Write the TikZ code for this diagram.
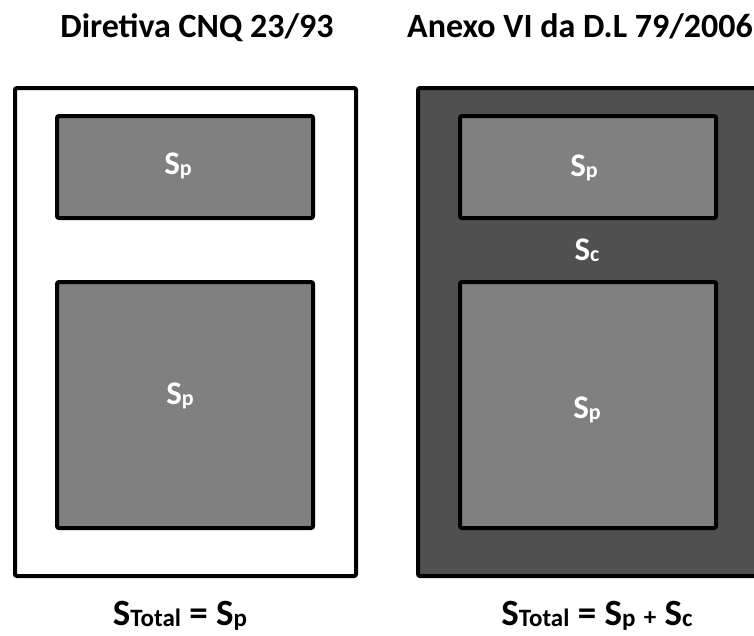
\documentclass[tikz,border=0pt]{standalone}
\usepackage{fontspec}
\setmainfont{Carlito}
\definecolor{darkfill}{HTML}{505050}
\definecolor{midfill}{HTML}{808080}
\newcommand{\labS}[1]{S{\fontsize{22}{22}\selectfont\raisebox{-1pt}{#1}}}
\newcommand{\eqS}[1]{S{\fontsize{25}{25}\selectfont\raisebox{-1pt}{#1}}}
\begin{document}
\begin{tikzpicture}[x=1pt,y=-1pt,
  framebox/.style={draw=black, line width=4pt, rounded corners=2pt, inner sep=0pt, outer sep=0pt, anchor=north west},
  innerbox/.style={framebox, fill=midfill},
  title/.style={font=\fontsize{34}{34}\selectfont\bfseries, text=black, inner sep=0pt, anchor=base},
  lab/.style={font=\fontsize{33}{33}\selectfont\bfseries, text=white, inner sep=0pt, anchor=base},
  eqn/.style={font=\fontsize{37}{37}\selectfont\bfseries, text=black, inner sep=0pt, anchor=base}]
\useasboundingbox (0,0) rectangle (754,635);
% left
\node[framebox, fill=white, minimum width=341pt, minimum height=488pt] (lout) at (15,88) {};
\node[innerbox, minimum width=256pt, minimum height=102pt] (ltop) at (57,116) {};
\node[innerbox, minimum width=256pt, minimum height=246pt] (lbot) at (57,282) {};
% right
\node[framebox, fill=darkfill, minimum width=380pt, minimum height=488pt] (rout) at (418,88) {};
\node[innerbox, minimum width=256pt, minimum height=102pt] (rtop) at (460,116) {};
\node[innerbox, minimum width=256pt, minimum height=246pt] (rbot) at (460,282) {};
% titles
\node[title] (t1) at (197,37) {Diretiva CNQ 23/93};
\node[title, anchor=base west] (t2) at (407,37) {Anexo VI da D.L 79/2006};
% labels
\node[lab] (l1) at (178,174) {\labS{p}};
\node[lab] (l2) at (180,404) {\labS{p}};
\node[lab] (r1) at (584,176) {\labS{p}};
\node[lab] (r2) at (587,260) {\labS{c}};
\node[lab] (r3) at (587,418) {\labS{p}};
% equations
\node[eqn] (e1) at (180,625) {\eqS{Total} = \eqS{p}};
\node[eqn] (e2) at (597,625) {\eqS{Total} = \eqS{p} {\fontsize{25}{25}\selectfont+} \eqS{c}};
\end{tikzpicture}
\end{document}
